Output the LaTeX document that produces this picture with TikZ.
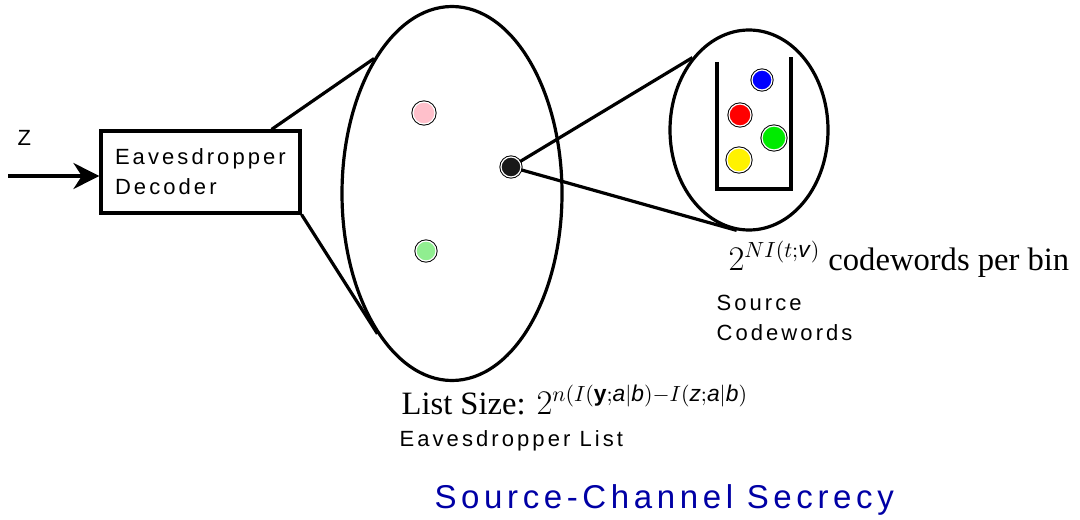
\documentclass[tikz,border=0pt]{standalone}
\usepackage{amsmath}
\usepackage{fontspec}
\usepackage{tikz}
\usetikzlibrary{arrows.meta,shapes.geometric}
\setmainfont{Liberation Serif}
\setsansfont{Liberation Sans}
\newfontfamily\labelfont[LetterSpace=14]{Liberation Sans}
\newfontfamily\titlefont[LetterSpace=14]{Liberation Sans}
\definecolor{ballpink}{RGB}{255,192,203}
\definecolor{balllight}{RGB}{144,238,144}
\definecolor{ballgreen}{RGB}{0,235,0}
\definecolor{titleblue}{RGB}{0,0,165}
\newcommand{\sv}[1]{\textsf{\textit{#1}}}

\begin{document}
\begin{tikzpicture}[x=0.5pt,y=-0.5pt,line width=1.6pt,
    lbl/.style={font=\labelfont\fontsize{11}{15}\selectfont,anchor=base west,inner sep=0pt},
    eq/.style={font=\fontsize{16.3}{19}\selectfont,anchor=base west,inner sep=0pt},
    ball/.style={circle,inner sep=0pt,fill=#1,draw=white,line width=0.6pt,
        preaction={draw=black,line width=1.6pt}}]
    \useasboundingbox (0,0) rectangle (1080,519);
    \node[draw,rectangle,minimum height=41pt,text width=85.5pt,inner xsep=7pt,inner ysep=0pt,
        align=left,font=\labelfont\fontsize{11}{15}\selectfont] (dec) at (200.5,172) {Eavesdropper\\Decoder};
    \node[lbl] (z) at (16,145) {Z};
    \coordinate (zin) at (8,176);
    \node[draw,ellipse,minimum width=110pt,minimum height=187pt,inner sep=0pt] (elist) at (452,193.5) {};
    \node[draw,ellipse,minimum width=79pt,minimum height=100pt,inner sep=0pt] (ebin) at (749,130) {};
    \node[ball=ballpink,minimum size=11pt] (pink) at (424,113) {};
    \node[ball=balllight,minimum size=10pt] (light) at (426,251) {};
    \node[ball=black!90,minimum size=10pt] (bdot) at (511,167) {};
    \node[ball=blue,minimum size=10pt] (bblue) at (762,80) {};
    \node[ball=red,minimum size=11pt] (bred) at (740,115) {};
    \node[ball=ballgreen,minimum size=12pt] (bgreen) at (774,138) {};
    \node[ball=yellow,minimum size=12pt] (byellow) at (739,160) {};
    \draw (717,62) -- (717,189) -- (791,189) -- (791,57);
    \draw[-{Stealth[length=13pt,width=13pt]}] (zin) -- (dec.west |- zin);
    \draw ([xshift=-15pt]dec.north east) -- (elist.120);
    \draw (dec.south east) -- (elist.242);
    \draw (bdot) -- (ebin.128);
    \draw (bdot) -- (ebin.263);
    \node[eq] (perbin) at (727,270) {$2^{NI(t;\sv{v})}$ codewords per bin};
    \node[lbl] (src) at (715,310) {Source};
    \node[lbl] (cw) at (715,340) {Codewords};
    \node[eq] (lsize) at (400,414) {List Size: $2^{n(I(\textbf{\textsf{y}};\sv{a}|\sv{b})-I(\sv{z};\sv{a}|\sv{b})}$};
    \node[lbl] (elab) at (398,446) {Eavesdropper List};
    \node[font=\titlefont\fontsize{16.5}{19}\selectfont,text=titleblue,anchor=base west,inner sep=0pt] (title) at (433,508) {Source-Channel Secrecy};
\end{tikzpicture}
\end{document}
